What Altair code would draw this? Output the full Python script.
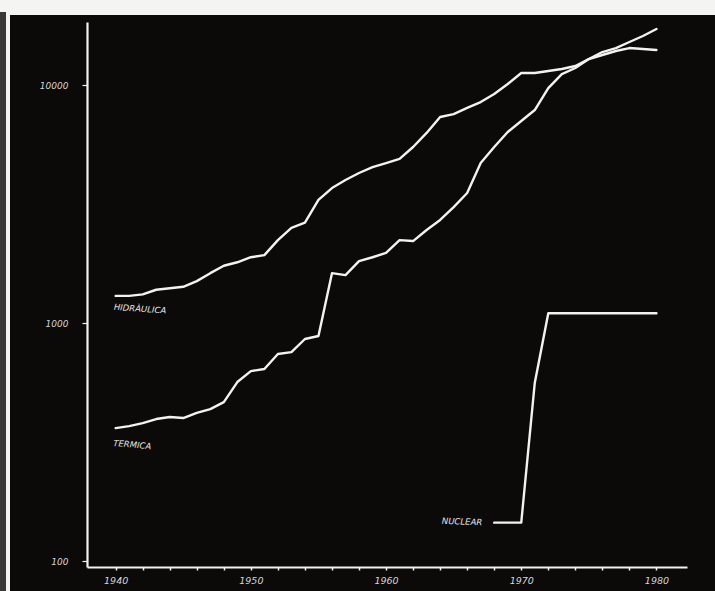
import altair as alt
import pandas as pd

# ---- data (installed power, MW; log scale) ----
years = list(range(1940, 1981))
hidraulica = [1300, 1300, 1320, 1380, 1400, 1420, 1500, 1620, 1740, 1800,
              1890, 1930, 2230, 2510, 2640, 3290, 3690, 3990, 4270, 4520,
              4700, 4890, 5490, 6290, 7340, 7550, 8010, 8480, 9170, 10100,
              11230, 11230, 11450, 11680, 12020, 12860, 13370, 13900, 14300, 14170,
              14030]
termica = [362, 369, 380, 395, 403, 399, 419, 435, 465, 565,
           628, 641, 741, 755, 857, 882, 1620, 1590, 1820, 1890,
           1970, 2230, 2210, 2460, 2710, 3070, 3520, 4700, 5490, 6350,
           7060, 7850, 9710, 11120, 11790, 12860, 13760, 14300, 15160, 16070,
           17190]
nuclear_years = list(range(1968, 1981))
nuclear = [145, 145, 145, 560, 1100, 1100, 1100, 1100, 1100, 1100, 1100, 1100, 1100]

series_names = ["Hidràulica", "Tèrmica", "Nuclear"]

label_text = ["HIDRÀULICA", "TERMICA", "NUCLEAR"]
label_year = [1940, 1940, 1968]
label_value = [hidraulica[0], termica[0], nuclear[0]]

x_tick_values = list(range(1940, 1982, 2))
y_tick_values = [100, 1000, 10000]

# ---- build table ----
rows = []
for y, v in zip(years, hidraulica):
    rows.append({"year": y, "value": v, "series": series_names[0]})
for y, v in zip(years, termica):
    rows.append({"year": y, "value": v, "series": series_names[1]})
for y, v in zip(nuclear_years, nuclear):
    rows.append({"year": y, "value": v, "series": series_names[2]})
df = pd.DataFrame(rows)

FG = "#f2f2f2"
BG = "#0b0a09"
FONT = "DejaVu Sans"

xscale = alt.Scale(domain=[1937.88, 1982.26], nice=False, zero=False)
yscale = alt.Scale(type="log", domain=[94.4, 18400], nice=False)

x_axis = alt.Axis(values=x_tick_values, format="d",
                  labelExpr="datum.value % 10 === 0 ? datum.label : ''",
                  labelOverlap=False,
                  tickSize=3, tickColor=FG, tickWidth=1.5,
                  domainColor=FG, domainWidth=2.2,
                  labelColor="#d6d6d6", labelFont=FONT, labelFontStyle="italic",
                  labelFontSize=9.5, labelPadding=5, grid=False, title=None,
                  zindex=1)
y_axis = alt.Axis(values=y_tick_values, format="d", labelOverlap=False,
                  tickSize=5, tickColor=FG, tickWidth=1.2,
                  domainColor=FG, domainWidth=2.2,
                  labelColor="#d6d6d6", labelFont=FONT, labelFontStyle="italic",
                  labelFontSize=9, labelPadding=14, grid=False, title=None,
                  zindex=1)

one = pd.DataFrame({"k": [0]})

# photo background: black print with a white top margin and a thin left edge
black_bg = alt.Chart(one).mark_rect(color=BG).encode(
    x=alt.value(-77), x2=alt.value(628), y=alt.value(-7), y2=alt.value(569)
)
left_edge = alt.Chart(one).mark_rect(color="#3a3836").encode(
    x=alt.value(-87), x2=alt.value(-81), y=alt.value(-10), y2=alt.value(569)
)

lines = alt.Chart(df).mark_line(color=FG, strokeWidth=2.4, strokeJoin="round", strokeCap="round").encode(
    x=alt.X("year:Q", scale=xscale, axis=x_axis),
    y=alt.Y("value:Q", scale=yscale, axis=y_axis),
    detail="series:N",
)

label_styles = [
    dict(align="left", dx=-1, dy=11, angle=4),
    dict(align="left", dx=-1, dy=15, angle=5),
    dict(align="right", dx=-12, dy=0, angle=2),
]

layers = [black_bg, left_edge, lines]
for t, yr, val, st in zip(label_text, label_year, label_value, label_styles):
    ldf = pd.DataFrame({"year": [yr], "value": [val], "text": [t]})
    layers.append(
        alt.Chart(ldf).mark_text(
            color="#e6e6e6", font=FONT, fontStyle="italic", fontSize=8.5,
            baseline="middle", **st
        ).encode(
            x=alt.X("year:Q", scale=xscale, axis=x_axis),
            y=alt.Y("value:Q", scale=yscale, axis=y_axis),
            text="text:N",
        )
    )

chart = alt.layer(*layers).properties(
    width=600, height=545,
    autosize=alt.AutoSizeParams(type="none"),
    padding={"left": 87, "top": 22, "right": 28, "bottom": 24},
    background="#f4f4f2",
).configure_view(stroke=None)

chart.save("out.html", embed_options={"renderer": "svg", "actions": False})
